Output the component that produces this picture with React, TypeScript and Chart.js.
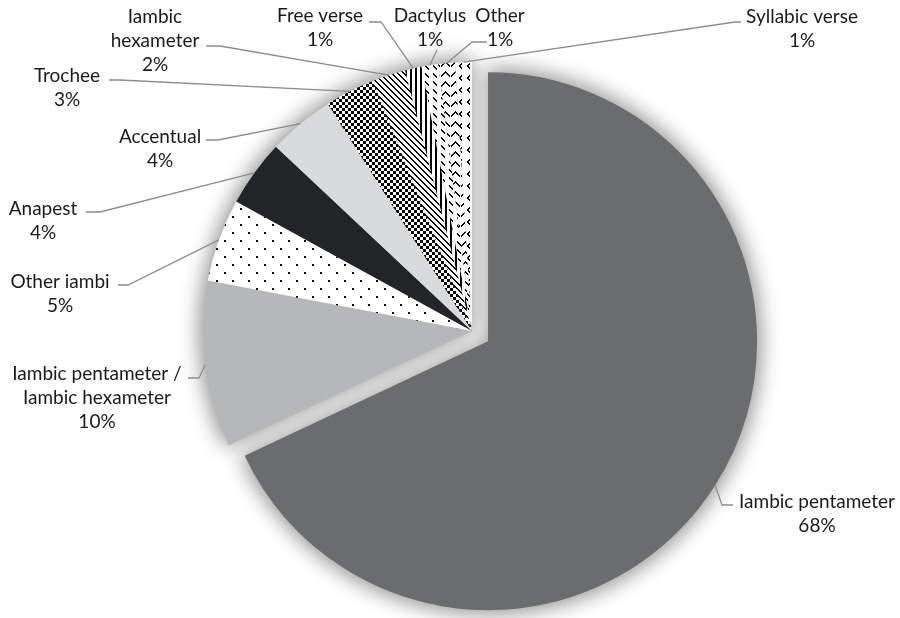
import React, { useEffect, useRef } from "react";
import { Chart, registerables } from "chart.js";

Chart.register(...registerables);

// Metre categories, clockwise from 12 o'clock
const categories = [
  "Iambic pentameter",
  "Iambic pentameter / Iambic hexameter",
  "Other iambi",
  "Anapest",
  "Accentual",
  "Trochee",
  "Iambic hexameter",
  "Free verse",
  "Dactylus",
  "Other",
  "Syllabic verse",
];

// Share of poems, percent
const shares = [68, 10, 5, 4, 4, 3, 2, 1, 1, 1, 1];

// Fill for each slice: a flat colour or a named hatch pattern
const fills = [
  "#6a6c6d",
  "#b6b7b8",
  "pattern:dots",
  "#222527",
  "#d9dadb",
  "pattern:checker",
  "pattern:diagonal",
  "pattern:vertical",
  "pattern:dashes",
  "pattern:chevrons",
  "pattern:carets",
];

// Only the largest slice is pulled out of the pie (pixels along its mid-angle)
const sliceOffsets = [19, 0, 0, 0, 0, 0, 0, 0, 0, 0, 0];

// Callout placement: text centre x, first baseline, wrap width, leader elbow and end
const calloutSpots = [
  { cx: 817, top: 508, wrap: 220, elbow: [722, 505], end: [733, 505] },
  { cx: 97, top: 380, wrap: 185, elbow: [199, 378], end: [188, 378] },
  { cx: 60, top: 288, wrap: 150, elbow: [128, 285], end: [118, 285] },
  { cx: 43, top: 215, wrap: 150, elbow: [100, 212], end: [86, 212] },
  { cx: 160, top: 143, wrap: 150, elbow: [218, 140], end: [206, 140] },
  { cx: 67, top: 82, wrap: 150, elbow: [120, 80], end: [109, 80] },
  { cx: 155, top: 23, wrap: 110, elbow: [220, 46], end: [206, 46] },
  { cx: 320, top: 22, wrap: 150, elbow: [381, 22], end: [369, 22] },
  { cx: 430, top: 22, wrap: 150, elbow: [437, 50], end: [437, 50] },
  { cx: 500, top: 22, wrap: 150, elbow: [472, 42], end: [487, 42] },
  { cx: 802, top: 23, wrap: 150, elbow: [735, 22], end: [741, 22] },
];

const FONT_FAMILY = "Lato, 'Open Sans', sans-serif";
const FONT_SIZE = 19;
const LINE_HEIGHT = 24;
const TEXT_COLOR = "#1a1a1a";
const LEADER_COLOR = "#8d8d8d";

function makeTile(w: number, h: number, ink: (x: number, y: number) => boolean): CanvasPattern | string {
  const c = document.createElement("canvas");
  c.width = w;
  c.height = h;
  const g = c.getContext("2d");
  if (!g) return "#fff";
  const img = g.createImageData(w, h);
  for (let y = 0; y < h; y++) {
    for (let x = 0; x < w; x++) {
      const v = ink(x, y) ? 0 : 255;
      const k = (y * w + x) * 4;
      img.data[k] = v;
      img.data[k + 1] = v;
      img.data[k + 2] = v;
      img.data[k + 3] = 255;
    }
  }
  g.putImageData(img, 0, 0);
  const p = g.createPattern(c, "repeat");
  return p || "#fff";
}

function buildPattern(name: string): CanvasPattern | string {
  switch (name) {
    case "dots":
      return makeTile(16, 16, (x, y) => (x < 2 && y < 2) || (x >= 8 && x < 10 && y >= 8 && y < 10));
    case "checker":
      return makeTile(6, 6, (x, y) => (Math.floor(x / 3) + Math.floor(y / 3)) % 2 === 0);
    case "diagonal":
      return makeTile(6, 6, (x, y) => (x - y + 12) % 6 < 2);
    case "vertical":
      return makeTile(5, 1, (x) => x < 2);
    case "dashes":
      return makeTile(8, 8, (x, y) => x >= 1 && x <= 4 && (y === x || y === x + 1));
    case "chevrons":
      return makeTile(10, 10, (x, y) => {
        if (x === 0) return false;
        const yc = 1 + Math.abs(x - 5);
        return y === yc || y === yc + 1;
      });
    case "carets":
      return makeTile(8, 12, (x, y) => {
        const pts = [
          [5, 3],
          [4, 4],
          [3, 5],
          [4, 6],
          [5, 7],
        ];
        return pts.some(([px, py]) => px === x && (py === y || py + 1 === y));
      });
    default:
      return "#fff";
  }
}

function wrapWords(ctx: CanvasRenderingContext2D, text: string, maxWidth: number): string[] {
  const words = text.split(" ");
  const lines: string[] = [];
  let cur = "";
  for (const w of words) {
    const trial = cur ? cur + " " + w : w;
    if (cur && ctx.measureText(trial).width > maxWidth) {
      lines.push(cur);
      cur = w;
    } else {
      cur = trial;
    }
  }
  if (cur) lines.push(cur);
  return lines;
}

// Pull exploded slices outward by moving their centre along the mid-angle
const explode = {
  id: "explode",
  afterDatasetUpdate(chart: any) {
    const meta = chart.getDatasetMeta(0);
    meta.data.forEach((arc: any, i: number) => {
      const off = sliceOffsets[i] || 0;
      if (!off) return;
      const mid = (arc.startAngle + arc.endAngle) / 2;
      arc.x += Math.cos(mid) * off;
      arc.y += Math.sin(mid) * off;
    });
  },
};

// Soft grey halo under the whole pie, drawn before the slices
const pieShadow = {
  id: "pieShadow",
  beforeDatasetsDraw(chart: any) {
    const meta = chart.getDatasetMeta(0);
    const ctx: CanvasRenderingContext2D = chart.ctx;
    ctx.save();
    (ctx as any).filter = "blur(10px)";
    ctx.fillStyle = "rgba(0,0,0,0.42)";
    ctx.beginPath();
    meta.data.forEach((arc: any) => {
      ctx.moveTo(arc.x, arc.y);
      ctx.arc(arc.x, arc.y, arc.outerRadius + 4, arc.startAngle, arc.endAngle);
      ctx.closePath();
    });
    ctx.fill();
    ctx.restore();
  },
};

// Category name and percentage beside each slice, joined by a leader line
const callouts = {
  id: "callouts",
  afterDatasetsDraw(chart: any) {
    const meta = chart.getDatasetMeta(0);
    const ctx: CanvasRenderingContext2D = chart.ctx;
    ctx.save();
    ctx.font = `${FONT_SIZE}px ${FONT_FAMILY}`;
    meta.data.forEach((arc: any, i: number) => {
      const spot = calloutSpots[i];
      const mid = (arc.startAngle + arc.endAngle) / 2;
      const px = arc.x + Math.cos(mid) * arc.outerRadius;
      const py = arc.y + Math.sin(mid) * arc.outerRadius;

      ctx.strokeStyle = LEADER_COLOR;
      ctx.lineWidth = 1.3;
      ctx.beginPath();
      ctx.moveTo(px, py);
      ctx.lineTo(spot.elbow[0], spot.elbow[1]);
      ctx.lineTo(spot.end[0], spot.end[1]);
      ctx.stroke();

      const lines = wrapWords(ctx, categories[i], spot.wrap);
      lines.push(`${shares[i]}%`);
      ctx.fillStyle = TEXT_COLOR;
      ctx.textAlign = "center";
      ctx.textBaseline = "alphabetic";
      lines.forEach((t, k) => ctx.fillText(t, spot.cx, spot.top + k * LINE_HEIGHT));
    });
    ctx.restore();
  },
};

export default function App() {
  const canvasRef = useRef<HTMLCanvasElement | null>(null);

  useEffect(() => {
    const canvas = canvasRef.current;
    if (!canvas) return;
    const bg = fills.map((f) => (f.startsWith("pattern:") ? buildPattern(f.slice(8)) : f));
    const chart = new Chart(canvas, {
      type: "pie",
      data: {
        labels: categories,
        datasets: [
          {
            data: shares,
            backgroundColor: bg as any,
            borderWidth: 0,
          },
        ],
      },
      options: {
        responsive: false,
        animation: false,
        events: [],
        radius: 269,
        layout: { padding: { left: 44, top: 44, right: 0, bottom: 0 } },
        plugins: {
          legend: { display: false },
          tooltip: { enabled: false },
        },
      } as any,
      plugins: [explode, pieShadow, callouts],
    });
    return () => chart.destroy();
  }, []);

  return (
    <div style={{ position: "absolute", left: 0, top: 0, width: 900, height: 618, background: "#fff" }}>
      <canvas ref={canvasRef} width={900} height={618} style={{ display: "block" }} />
    </div>
  );
}
